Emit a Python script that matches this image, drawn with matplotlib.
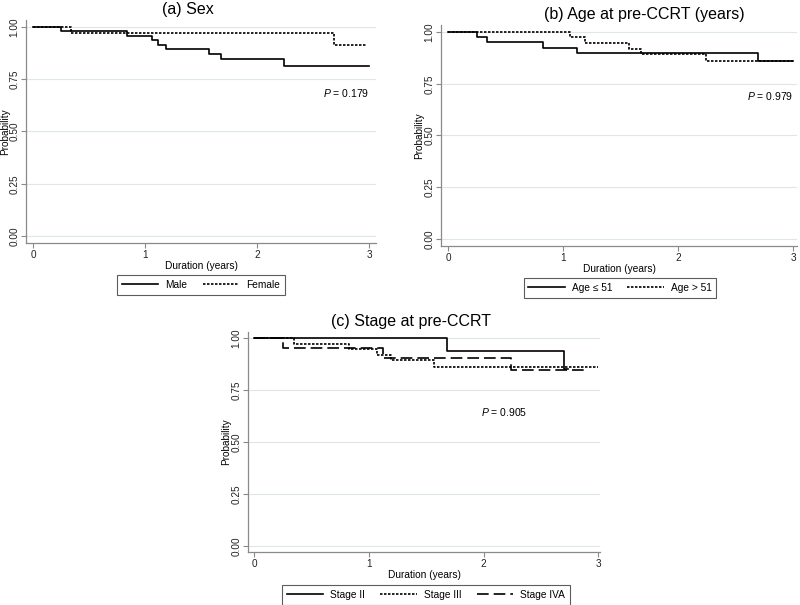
import matplotlib
matplotlib.use('Agg')
import matplotlib.pyplot as plt

plt.rcParams['font.family'] = ['Liberation Sans', 'DejaVu Sans']
plt.rcParams['mathtext.fontset'] = 'custom'
plt.rcParams['mathtext.it'] = 'Liberation Sans:italic'
plt.rcParams['mathtext.rm'] = 'Liberation Sans'

# (a) Sex
male_t = [0, 0.25, 0.84, 1.06, 1.12, 1.19, 1.57, 1.68, 2.24, 3.0]
male_s = [1.0, 0.979, 0.957, 0.936, 0.915, 0.893, 0.869, 0.845, 0.814, 0.814]
female_t = [0, 0.34, 2.69, 2.97]
female_s = [1.0, 0.971, 0.912, 0.912]

# (b) Age
young_t = [0, 0.25, 0.34, 0.83, 1.12, 2.70, 3.0]
young_s = [1.0, 0.976, 0.952, 0.924, 0.898, 0.858, 0.858]
old_t = [0, 1.06, 1.19, 1.57, 1.68, 2.24, 3.0]
old_s = [1.0, 0.976, 0.947, 0.918, 0.895, 0.858, 0.858]

# (c) Stage
st2_t = [0, 1.68, 2.70, 2.74]
st2_s = [1.0, 0.936, 0.853, 0.853]
st3_t = [0, 0.35, 0.83, 1.07, 1.19, 1.57, 3.0]
st3_s = [1.0, 0.973, 0.947, 0.917, 0.892, 0.860, 0.860]
st4_t = [0, 0.25, 1.12, 2.24, 2.88]
st4_s = [1.0, 0.952, 0.904, 0.846, 0.846]

W, H = 800, 605
fig = plt.figure(figsize=(8, 6.05), dpi=100)

def make_ax(l, r, t, b):
    return fig.add_axes([l / W, 1 - b / H, (r - l) / W, (b - t) / H])

SOLID = '-'
DOT = (0, (1.5, 0.9))
DASH = (0, (7, 3))

def style(ax, title, xlim, ylim, title_x, ylab_x):
    ax.set_xlim(*xlim)
    ax.set_ylim(*ylim)
    ax.set_xticks([0, 1, 2, 3])
    ax.set_yticks([0, 0.25, 0.5, 0.75, 1.0])
    ax.set_yticklabels(['0.00', '0.25', '0.50', '0.75', '1.00'], rotation=90, va='center')
    ax.grid(axis='y', color='#dde7ea', lw=0.8)
    ax.set_axisbelow(True)
    for s in ['top', 'right']:
        ax.spines[s].set_visible(False)
    for s in ['left', 'bottom']:
        ax.spines[s].set_color('#8a8a8a')
        ax.spines[s].set_linewidth(0.9)
    ax.tick_params(colors='#8a8a8a', labelcolor='#222222', labelsize=7.2, length=3.6, width=0.8, pad=1.2)
    ax.set_xlabel('Duration (years)', fontsize=7.3, labelpad=1)
    ax.set_ylabel('Probability', fontsize=7.2)
    ax.yaxis.set_label_coords(ylab_x, 0.5)
    ax.set_title(title, fontsize=11.5, pad=4, x=title_x)

def legend(ax, cx, cy, ncol):
    leg = fig.legend(handles=ax.get_lines(), loc='center', bbox_to_anchor=(cx / W, 1 - cy / H),
                     ncol=ncol, fontsize=7.3, frameon=True, fancybox=False, handlelength=3.6,
                     columnspacing=1.5, borderpad=0.45, handletextpad=0.7)
    leg.get_frame().set_edgecolor('#333333')
    leg.get_frame().set_linewidth(0.8)

ax1 = make_ax(26, 376, 20, 243)
ax1.step(male_t, male_s, where='post', color='black', lw=1.2, ls=SOLID, label='Male')
ax1.step(female_t, female_s, where='post', color='black', lw=1.2, ls=DOT, label='Female')
style(ax1, '(a) Sex', (-0.0625, 3.0625), (-0.0335, 1.0335), 0.463, -0.0457)
ax1.text(3.0, 0.684, '$\\it{P}$ = 0.179', ha='right', va='center', fontsize=7.5)
legend(ax1, 201, 285, 2)

ax2 = make_ax(441, 797, 25, 246)
ax2.step(young_t, young_s, where='post', color='black', lw=1.2, ls=SOLID, label='Age \u2264 51')
ax2.step(old_t, old_s, where='post', color='black', lw=1.2, ls=DOT, label='Age > 51')
style(ax2, '(b) Age at pre-CCRT (years)', (-0.061, 3.035), (-0.034, 1.034), 0.57, -0.048)
ax2.text(3.0, 0.691, '$\\it{P}$ = 0.979', ha='right', va='center', fontsize=7.5)
legend(ax2, 620, 288, 2)

ax3 = make_ax(248, 600, 332, 552)
ax3.step(st2_t, st2_s, where='post', color='black', lw=1.2, ls=SOLID, label='Stage II')
ax3.step(st3_t, st3_s, where='post', color='black', lw=1.2, ls=DOT, label='Stage III')
ax3.step(st4_t, st4_s, where='post', color='black', lw=1.2, ls=DASH, label='Stage IVA')
style(ax3, '(c) Stage at pre-CCRT', (-0.052, 3.015), (-0.029, 1.029), 0.463, -0.048)
ax3.text(2.18, 0.644, '$\\it{P}$ = 0.905', ha='center', va='center', fontsize=7.5)
legend(ax3, 426, 595, 3)

fig.savefig('out.png', dpi=100, facecolor='white')
